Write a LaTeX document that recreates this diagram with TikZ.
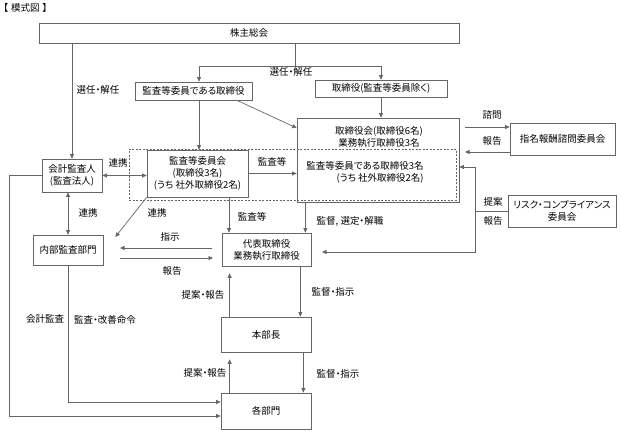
\documentclass[tikz,border=0pt]{standalone}
\usepackage{fontspec}
\setmainfont{Noto Sans CJK JP}[RawFeature=+palt]
\usetikzlibrary{arrows.meta}
\definecolor{linegray}{HTML}{666666}

\begin{document}
\begin{tikzpicture}[x=1pt,y=-1pt,
                    font=\fontsize{9.5}{12}\selectfont,
                    line width=0.7pt,
                    box/.style={draw=linegray,inner sep=0pt,align=center},
                    grpbox/.style={draw=linegray,dash pattern=on 2pt off 1.5pt,inner sep=0pt},
                    arr/.style={draw=linegray,-{Triangle[length=4.5pt,width=4pt]}},
                    dblarr/.style={draw=linegray,{Triangle[length=4.5pt,width=4pt]}-{Triangle[length=4.5pt,width=4pt]}},
                    lbl/.style={inner sep=0pt,align=center}]
    \useasboundingbox (0,0) rectangle (621,439);
    \node[lbl,anchor=west] (title) at (3,8) {【\hspace{3pt}模式図\hspace{3pt}】};
    \node[grpbox,minimum width=327,minimum height=51] (grp) at (292.5,174.5) {};
    \node[box,minimum width=420,minimum height=20] (sh) at (249,33) {株主総会};
    \node[box,minimum width=117,minimum height=18] (kan) at (193.5,91) {監査等委員である取締役};
    \node[box,minimum width=132,minimum height=17] (tori) at (381,88.5) {取締役(監査等委員除く)};
    \node[box,minimum width=162,minimum height=84] (board) at (378,160) {};
    \node[lbl] (boardtxt) at (379,137) {取締役会(取締役6名)\\業務執行取締役3名};
    \node[lbl,align=right,anchor=east] (grptxt) at (424,172) {監査等委員である取締役3名\\(うち 社外取締役2名)};
    \node[box,minimum width=101,minimum height=47] (iinkai) at (197.5,173.5) {監査等委員会\\(取締役3名)\\(うち 社外取締役2名)};
    \node[box,minimum width=60,minimum height=33] (kaikei) at (72,175.5) {会計監査人\\(監査法人)};
    \node[box,minimum width=70,minimum height=30] (naibu) at (68,250) {内部監査部門};
    \node[box,minimum width=89,minimum height=33] (daihyo) at (266.5,249.5) {代表取締役\\業務執行取締役};
    \node[box,minimum width=105,minimum height=32] (shimei) at (562.5,139) {指名報酬諮問委員会};
    \node[box,minimum width=108,minimum height=32] (risk) at (562,211) {リスク・コンプライアンス\\委員会};
    \node[box,minimum width=90,minimum height=35] (honbu) at (266,334.5) {本部長};
    \node[box,minimum width=90,minimum height=36] (kaku) at (266,411) {各部門};

    \coordinate (split) at (295,66);
    \coordinate (kanin) at ([xshift=5.5]kan.north);
    \coordinate (kanout) at ([xshift=5.5]kan.south);
    \coordinate (kanr) at ([xshift=43.5]kan.south);
    \coordinate (iiout) at ([xshift=31.5]iinkai.south);
    \coordinate (bdout) at ([xshift=-6]daihyo.north east);
    \coordinate (sijis) at (212,248);
    \coordinate (sijie) at (120,248);
    \coordinate (hokos) at (120,258);
    \coordinate (hokoe) at (213,258);
    \coordinate (dh) at ([xshift=-11]daihyo.south east);
    \coordinate (hk) at ([xshift=-8]honbu.south east);
    \coordinate (hu) at ([xshift=9]honbu.north west);
    \coordinate (ku) at ([xshift=9]kaku.north west);
    \coordinate (sms) at (465,127);
    \coordinate (smr) at (465,152);
    \coordinate (rj) at (475,211);
    \coordinate (rt) at (475,167);
    \coordinate (rb) at (475,252);
    \coordinate (rbe) at (322,252);

    \draw[arr] (sh.south -| kaikei.north) -- (kaikei.north);
    \draw[draw=linegray] (sh.south -| split) -- (split);
    \draw[arr] (split) -| (kanin);
    \draw[arr] (split) -| (tori.north);
    \draw[arr] (kanr) -- ([yshift=32]board.west);
    \draw[arr] (kanout) -- (kanout |- iinkai.north);
    \draw[arr] (tori.south) -- (tori.south |- board.north);
    \draw[dblarr] (kaikei.east) -- (iinkai.west |- kaikei.east);
    \draw[arr] (iinkai.east) -- (board.west |- iinkai.east);
    \draw[dblarr] (naibu.north) -- (naibu.north |- kaikei.south);
    \draw[arr] (iinkai.south west) -- ([xshift=12,yshift=13]naibu.east);
    \draw[arr] (iiout) -- (iiout |- daihyo.north);
    \draw[arr] (bdout |- board.south) -- (bdout);
    \draw[arr] (sijis) -- (sijie);
    \draw[arr] (hokos) -- (hokoe);
    \draw[arr] (dh) -- (dh |- honbu.north);
    \draw[arr,shorten >=7pt] (hu) -- (hu |- daihyo.south);
    \draw[arr] (hk) -- (hk |- kaku.north);
    \draw[arr,shorten >=7pt] (ku) -- (ku |- honbu.south);
    \draw[arr] (naibu.south) |- ([yshift=9]kaku.west);
    \draw[arr] (kaikei.west) -- ++(-32,0) |- ([yshift=-5]kaku.west);
    \draw[arr] (sms) -- (sms -| shimei.west);
    \draw[arr] (smr -| shimei.west) -- (smr);
    \draw[draw=linegray] (risk.west) -- (rj);
    \draw[arr] (rj) -- (rt) -- (rt -| board.east);
    \draw[arr] (rj) -- (rb) -- (rbe);

    \node[lbl] at (98,90) {選任・解任};
    \node[lbl] at (291,72) {選任・解任};
    \node[lbl] at (118,163) {連携};
    \node[lbl] at (272,162) {監査等};
    \node[lbl] at (88,213) {連携};
    \node[lbl] at (157,213) {連携};
    \node[lbl] at (252,217) {監査等};
    \node[lbl] at (350,221) {監督, 選定・解職};
    \node[lbl] at (170,237) {指示};
    \node[lbl] at (172,271) {報告};
    \node[lbl] at (492,115) {諮問};
    \node[lbl] at (492,141) {報告};
    \node[lbl] at (493,202) {提案};
    \node[lbl] at (493,221) {報告};
    \node[lbl] at (203,295) {提案・報告};
    \node[lbl] at (333,292) {監督・指示};
    \node[lbl] at (205,373) {提案・報告};
    \node[lbl] at (338,374) {監督・指示};
    \node[lbl] at (105,320) {監査・改善命令};
    \node[lbl] at (45,319) {会計監査};
\end{tikzpicture}
\end{document}
